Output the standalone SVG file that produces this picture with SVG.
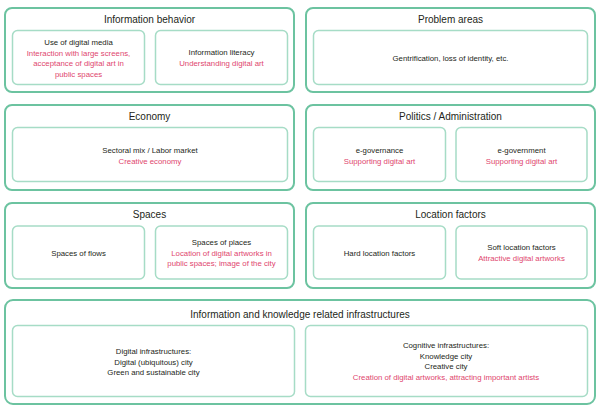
<svg xmlns="http://www.w3.org/2000/svg" width="600" height="412" viewBox="0 0 600 412">
<style>
.outer{fill:#fff;stroke:#6cc3a0;stroke-width:2}
.inner{fill:#fff;stroke:#a6dcc6;stroke-width:1.5}
text{font-family:"Liberation Sans",Arial,sans-serif;text-anchor:middle;fill:#231f20}
.t{font-size:10px}
.s{font-size:7.8px}
.r{fill:#e0466e}
</style>
<rect width="600" height="412" fill="#fff"/>
<g id="information-behavior">
<rect class="outer" x="5" y="8" width="289" height="84" rx="7"/>
<text class="t" x="149.5" y="23">Information behavior</text>
<g id="use-of-digital-media">
<rect class="inner" x="12.5" y="30.5" width="132" height="54" rx="5"/>
<text class="s" x="78.5" y="45">Use of digital media</text>
<text class="s r" x="78.5" y="55.5">Interaction with large screens,</text>
<text class="s r" x="78.5" y="66">acceptance of digital art in</text>
<text class="s r" x="78.5" y="76.5">public spaces</text>
</g>
<g id="information-literacy">
<rect class="inner" x="155.5" y="30.5" width="132" height="54" rx="5"/>
<text class="s" x="221.5" y="55">Information literacy</text>
<text class="s r" x="221.5" y="65.5">Understanding digital art</text>
</g>
</g>
<g id="problem-areas">
<rect class="outer" x="306" y="8" width="289" height="84" rx="7"/>
<text class="t" x="450.5" y="23">Problem areas</text>
<g id="gentrification">
<rect class="inner" x="313.5" y="30.5" width="274" height="54" rx="5"/>
<text class="s" x="450.5" y="61">Gentrification, loss of identity, etc.</text>
</g>
</g>
<g id="economy">
<rect class="outer" x="5" y="105" width="289" height="85" rx="7"/>
<text class="t" x="149.5" y="120">Economy</text>
<g id="sectoral-mix">
<rect class="inner" x="12.5" y="127.5" width="275" height="54" rx="5"/>
<text class="s" x="150" y="153">Sectoral mix / Labor market</text>
<text class="s r" x="150" y="163.5">Creative economy</text>
</g>
</g>
<g id="politics-administration">
<rect class="outer" x="306" y="105" width="289" height="85" rx="7"/>
<text class="t" x="450.5" y="120">Politics / Administration</text>
<g id="e-governance">
<rect class="inner" x="313.5" y="127.5" width="132" height="54" rx="5"/>
<text class="s" x="379.5" y="153">e-governance</text>
<text class="s r" x="379.5" y="163.5">Supporting digital art</text>
</g>
<g id="e-government">
<rect class="inner" x="456" y="127.5" width="131" height="54" rx="5"/>
<text class="s" x="521.5" y="153">e-government</text>
<text class="s r" x="521.5" y="163.5">Supporting digital art</text>
</g>
</g>
<g id="spaces">
<rect class="outer" x="5" y="203" width="289" height="85" rx="7"/>
<text class="t" x="149.5" y="218">Spaces</text>
<g id="spaces-of-flows">
<rect class="inner" x="12.5" y="226" width="132" height="53" rx="5"/>
<text class="s" x="78.5" y="256">Spaces of flows</text>
</g>
<g id="spaces-of-places">
<rect class="inner" x="155.5" y="226" width="132" height="53" rx="5"/>
<text class="s" x="221.5" y="245">Spaces of places</text>
<text class="s r" x="221.5" y="255.5">Location of digital artworks in</text>
<text class="s r" x="221.5" y="266">public spaces; image of the city</text>
</g>
</g>
<g id="location-factors">
<rect class="outer" x="306" y="203" width="289" height="85" rx="7"/>
<text class="t" x="450.5" y="218">Location factors</text>
<g id="hard-location-factors">
<rect class="inner" x="313.5" y="226" width="132" height="53" rx="5"/>
<text class="s" x="379.5" y="256">Hard location factors</text>
</g>
<g id="soft-location-factors">
<rect class="inner" x="456" y="226" width="131" height="53" rx="5"/>
<text class="s" x="521.5" y="250">Soft location factors</text>
<text class="s r" x="521.5" y="260.5">Attractive digital artworks</text>
</g>
</g>
<g id="information-knowledge-infrastructures">
<rect class="outer" x="5" y="300" width="590" height="104" rx="8"/>
<text class="t" x="300" y="318">Information and knowledge related infrastructures</text>
<g id="digital-infrastructures">
<rect class="inner" x="12.5" y="325.5" width="282" height="71" rx="5"/>
<text class="s" x="153.5" y="354">Digital infrastructures:</text>
<text class="s" x="153.5" y="364.5">Digital (ubiquitous) city</text>
<text class="s" x="153.5" y="375">Green and sustainable city</text>
</g>
<g id="cognitive-infrastructures">
<rect class="inner" x="305.5" y="325.5" width="282" height="71" rx="5"/>
<text class="s" x="446" y="348">Cognitive infrastructures:</text>
<text class="s" x="446" y="358.5">Knowledge city</text>
<text class="s" x="446" y="369">Creative city</text>
<text class="s r" x="446" y="379.5">Creation of digital artworks, attracting important artists</text>
</g>
</g>
<g id="connectors"/>
</svg>
